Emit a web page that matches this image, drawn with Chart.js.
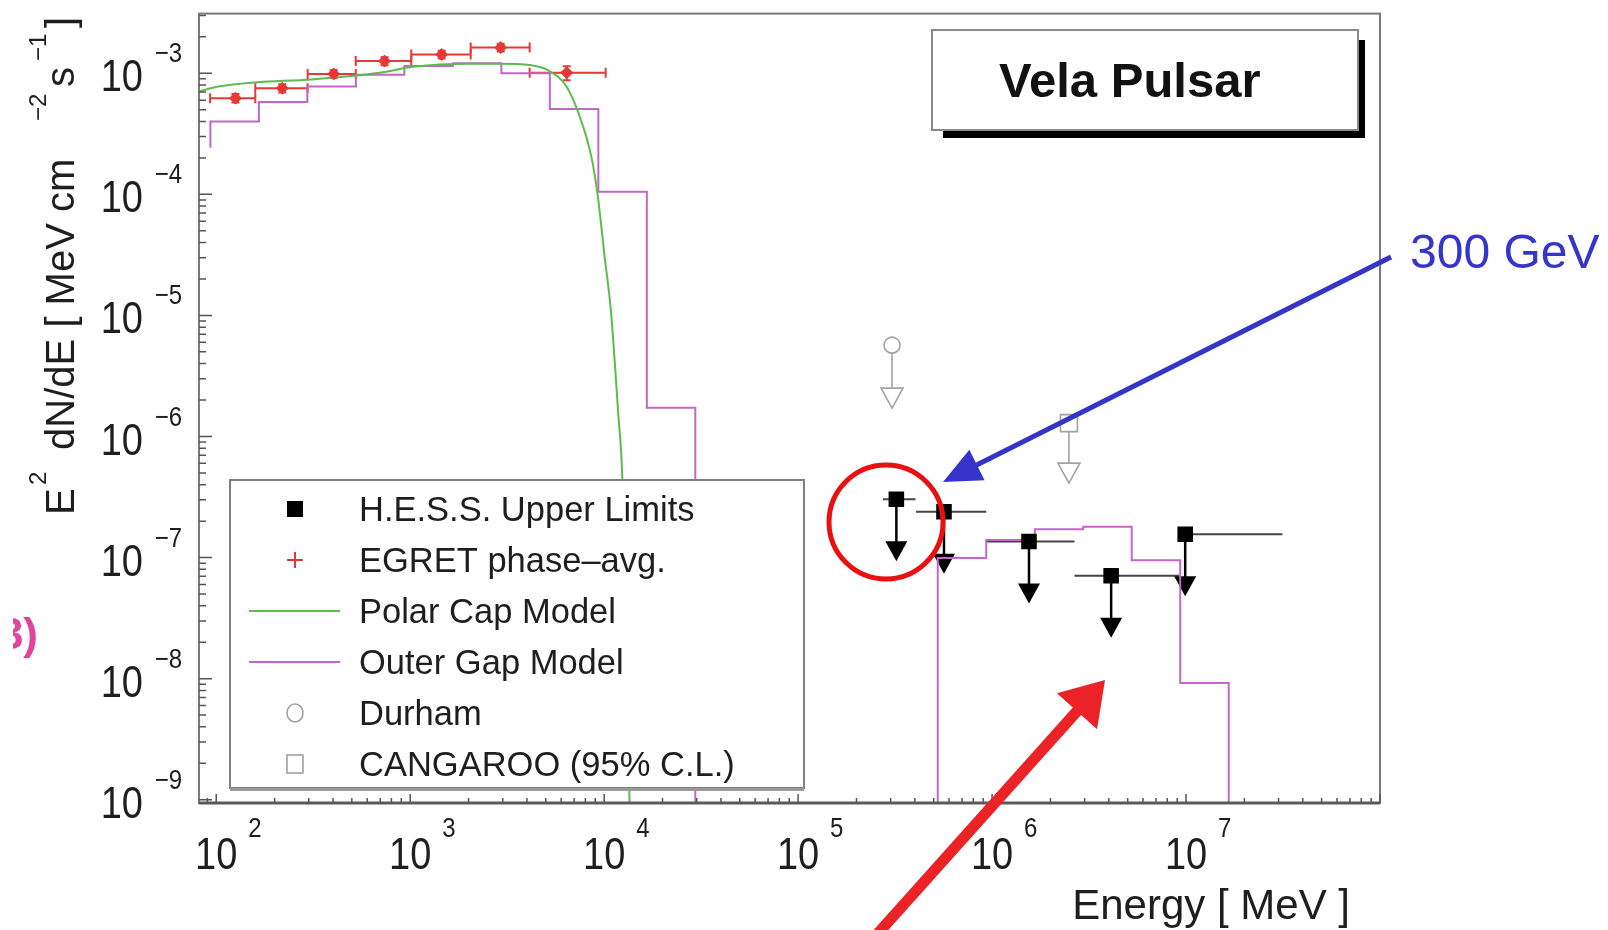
<!DOCTYPE html>
<html>
<head>
<meta charset="utf-8">
<script src="https://cdn.jsdelivr.net/npm/chart.js@4.4.1/dist/chart.umd.min.js"></script>
<style>
  html, body { margin: 0; padding: 0; background: #fff; }
  #wrap { width: 1608px; height: 930px; position: relative; }
</style>
</head>
<body>
<div id="wrap"><canvas id="chart" width="1608" height="930"></canvas></div>
<script>
// ---- data (energy in MeV, E^2 dN/dE in MeV cm^-2 s^-1) ----
const egretE = [125.6, 219, 403, 737, 1453, 2929, 6410];
const egretLo = [93, 159, 296, 524, 1013, 2051, 4130];
const egretHi = [159, 296, 524, 1013, 2051, 4130, 10180];
const egretFlux = [6.23e-4, 7.53e-4, 9.87e-4, 1.26e-3, 1.43e-3, 1.63e-3, 1.01e-3];
const egretErr = [0.5e-4, 0.6e-4, 0.75e-4, 0.95e-4, 1.05e-4, 1.2e-4, 1.35e-4];

const polarE = [82, 104, 158, 310, 696, 1033, 2005, 2890, 4130, 5130, 6380, 7480, 8590, 9250, 10070, 10830, 11800, 12420, 13530];
const polarFlux = [7.1e-4, 7.8e-4, 8.4e-4, 8.9e-4, 1.01e-3, 1.13e-3, 1.2e-3, 1.2e-3, 1.17e-3, 1.06e-3, 7.8e-4, 4.4e-4, 2.05e-4, 1.0e-4, 3.0e-5, 1.1e-5, 1.6e-6, 4.3e-7, 9e-10];

const gapEdges = [93.3, 166, 295, 525, 933, 1660, 2951, 5248, 9333, 16600, 29510, 524800, 933300, 1.66e6, 2.951e6, 5.248e6, 9.333e6, 1.66e7];
const gapFlux = [4.0e-4, 5.78e-4, 7.78e-4, 9.7e-4, 1.15e-3, 1.21e-3, 1.0e-3, 5.06e-4, 1.05e-4, 1.73e-6, 0, 9.9e-8, 1.4e-7, 1.71e-7, 1.8e-7, 9.5e-8, 9.2e-9];
const gapStart = 2.42e-4;

const hessE = [3.21e5, 5.65e5, 1.55e6, 4.11e6, 9.9e6];
const hessLo = [2.74e5, 4.06e5, 9.33e5, 2.66e6, 9.2e6];
const hessHi = [4.03e5, 9.33e5, 2.66e6, 9.2e6, 3.14e7];
const hessUL = [3.03e-7, 2.39e-7, 1.36e-7, 7.08e-8, 1.56e-7];

const durhamE = [3.05e5];
const durhamUL = [5.68e-6];
const cangE = [2.49e6];
const cangUL = [1.29e-6];

const xDecades = [2, 3, 4, 5, 6, 7];
const yDecades = [-9, -8, -7, -6, -5, -4, -3];
const legendLabels = ["H.E.S.S. Upper Limits", "EGRET phase\u2013avg.", "Polar Cap Model", "Outer Gap Model", "Durham", "CANGAROO (95% C.L.)"];

const FONT = '"Liberation Sans", Arial, Helvetica, sans-serif';
const RED = "#e53935", GREEN = "#5cbc4a", MAGENTA = "#c466c8", GREY = "#a2a2a2";

// step histogram points for the outer gap model
const gapPoints = [{ x: gapEdges[0], y: gapStart }];
gapFlux.forEach(function (v, i) {
  gapPoints.push({ x: gapEdges[i], y: v > 0 ? v : 1e-14 });
});
gapPoints.push({ x: gapEdges[gapEdges.length - 1], y: 1e-14 });

function pts(xs, ys) {
  return xs.map(function (x, i) { return { x: x, y: ys[i] }; });
}

function txt(ctx, s, x, y, size, opts) {
  opts = opts || {};
  ctx.save();
  ctx.translate(x, y);
  ctx.scale(1, opts.sy || 1);
  ctx.font = (opts.bold ? "bold " : "") + size + "px " + FONT;
  ctx.fillStyle = opts.color || "#1e1e1e";
  ctx.textAlign = opts.align || "left";
  ctx.textBaseline = "alphabetic";
  ctx.fillText(s, 0, 0);
  ctx.restore();
}

function arrowLine(ctx, x0, y0, x1, y1, lw, headLen, headHalf, color) {
  const dx = x1 - x0, dy = y1 - y0;
  const L = Math.sqrt(dx * dx + dy * dy);
  const ux = dx / L, uy = dy / L;
  const bx = x1 - ux * headLen, by = y1 - uy * headLen;
  ctx.save();
  ctx.strokeStyle = color;
  ctx.fillStyle = color;
  ctx.lineWidth = lw;
  ctx.beginPath();
  ctx.moveTo(x0, y0);
  ctx.lineTo(bx + ux * 2, by + uy * 2);
  ctx.stroke();
  ctx.beginPath();
  ctx.moveTo(x1, y1);
  ctx.lineTo(bx - uy * headHalf, by + ux * headHalf);
  ctx.lineTo(bx + uy * headHalf, by - ux * headHalf);
  ctx.closePath();
  ctx.fill();
  ctx.restore();
}

function downArrow(ctx, x, y0, tip, color, hollow) {
  ctx.save();
  ctx.strokeStyle = color;
  ctx.lineWidth = hollow ? 1.6 : 2.5;
  ctx.beginPath();
  ctx.moveTo(x, y0);
  ctx.lineTo(x, tip - 19);
  ctx.stroke();
  ctx.beginPath();
  ctx.moveTo(x - 11, tip - 20);
  ctx.lineTo(x + 11, tip - 20);
  ctx.lineTo(x, tip);
  ctx.closePath();
  if (hollow) {
    ctx.fillStyle = "#fff";
    ctx.fill();
    ctx.stroke();
  } else {
    ctx.fillStyle = color;
    ctx.fill();
  }
  ctx.restore();
}

// error bars and upper-limit arrows, under the markers
const barsPlugin = {
  id: "bars",
  beforeDatasetsDraw: function (chart) {
    const ctx = chart.ctx, xs = chart.scales.x, ys = chart.scales.y;
    ctx.save();
    // EGRET
    ctx.strokeStyle = RED;
    ctx.lineWidth = 2;
    egretE.forEach(function (e, i) {
      const px = xs.getPixelForValue(e), py = ys.getPixelForValue(egretFlux[i]);
      const x0 = xs.getPixelForValue(egretLo[i]), x1 = xs.getPixelForValue(egretHi[i]);
      const y0 = ys.getPixelForValue(egretFlux[i] - egretErr[i]), y1 = ys.getPixelForValue(egretFlux[i] + egretErr[i]);
      ctx.beginPath();
      ctx.moveTo(x0, py); ctx.lineTo(x1, py);
      ctx.moveTo(x0, py - 5); ctx.lineTo(x0, py + 5);
      ctx.moveTo(x1, py - 5); ctx.lineTo(x1, py + 5);
      ctx.moveTo(px, y0); ctx.lineTo(px, y1);
      ctx.moveTo(px - 4, y0); ctx.lineTo(px + 4, y0);
      ctx.moveTo(px - 4, y1); ctx.lineTo(px + 4, y1);
      ctx.stroke();
    });
    // H.E.S.S.
    hessE.forEach(function (e, i) {
      const px = xs.getPixelForValue(e), py = ys.getPixelForValue(hessUL[i]);
      ctx.strokeStyle = "#444";
      ctx.lineWidth = 2;
      ctx.beginPath();
      ctx.moveTo(xs.getPixelForValue(hessLo[i]), py);
      ctx.lineTo(xs.getPixelForValue(hessHi[i]), py);
      ctx.stroke();
      downArrow(ctx, px, py, py + 62, "#000", false);
    });
    durhamE.forEach(function (e, i) {
      const px = xs.getPixelForValue(e), py = ys.getPixelForValue(durhamUL[i]);
      downArrow(ctx, px, py + 8, py + 63, GREY, true);
    });
    cangE.forEach(function (e, i) {
      const px = xs.getPixelForValue(e), py = ys.getPixelForValue(cangUL[i]);
      downArrow(ctx, px, py + 8, py + 60, GREY, true);
    });
    ctx.restore();
  }
};

// ROOT style frame, inner ticks, labels, legend and slide annotations
const decorPlugin = {
  id: "decor",
  afterDatasetsDraw: function (chart) {
    const ctx = chart.ctx, a = chart.chartArea, xs = chart.scales.x, ys = chart.scales.y;
    ctx.save();
    // frame
    ctx.strokeStyle = "#7a7a7a";
    ctx.lineWidth = 2;
    ctx.strokeRect(a.left, a.top, a.right - a.left, a.bottom - a.top);
    ctx.strokeStyle = "#5a5a5a";
    ctx.lineWidth = 3;
    ctx.beginPath();
    ctx.moveTo(a.left, a.bottom); ctx.lineTo(a.right, a.bottom);
    ctx.stroke();

    // ticks
    ctx.strokeStyle = "#555";
    ctx.lineWidth = 1.5;
    ctx.beginPath();
    for (let n = 1; n <= 8; n++) {
      for (let m = 1; m <= 9; m++) {
        const v = m * Math.pow(10, n);
        if (v < xs.min || v > xs.max) continue;
        const px = xs.getPixelForValue(v);
        ctx.moveTo(px, a.bottom);
        ctx.lineTo(px, a.bottom - (m === 1 ? 9 : 5));
      }
    }
    for (let n = -10; n <= -2; n++) {
      for (let m = 1; m <= 9; m++) {
        const v = m * Math.pow(10, n);
        if (v < ys.min || v > ys.max) continue;
        const py = ys.getPixelForValue(v);
        ctx.moveTo(a.left, py);
        ctx.lineTo(a.left + (m === 1 ? 13 : 7), py);
      }
    }
    ctx.stroke();

    // tick labels
    xDecades.forEach(function (d) {
      const px = xs.getPixelForValue(Math.pow(10, d));
      txt(ctx, "10", px, 869, 38, { align: "center", sy: 1.15 });
      txt(ctx, String(d), px + 32, 837, 24, { sy: 1.15 });
    });
    yDecades.forEach(function (d) {
      const py = ys.getPixelForValue(Math.pow(10, d));
      txt(ctx, "10", 143, py + 18, 38, { align: "right", sy: 1.15 });
      txt(ctx, "\u2212" + Math.abs(d), 182, py - 11, 24, { align: "right", sy: 1.15 });
    });

    // axis titles
    txt(ctx, "Energy [ MeV ]", 1350, 919, 42, { align: "right" });
    ctx.save();
    ctx.translate(74, 515);
    ctx.rotate(-Math.PI / 2);
    ctx.fillStyle = "#1e1e1e";
    ctx.textBaseline = "alphabetic";
    ctx.font = "40px " + FONT;
    ctx.fillText("E", 0, 0);
    ctx.fillText(" dN/dE [ MeV cm", 54, 0);
    ctx.fillText("s", 428, 0);
    ctx.fillText("]", 487, 0);
    ctx.font = "24px " + FONT;
    ctx.fillText("2", 30, -28);
    ctx.fillText("\u22122", 394, -28);
    ctx.fillText("\u22121", 454, -28);
    ctx.restore();

    // legend
    const lx = 230, ly = 480, lw = 574, lh = 308;
    ctx.fillStyle = "#fff";
    ctx.fillRect(lx, ly, lw, lh);
    ctx.strokeStyle = "#808080";
    ctx.lineWidth = 2;
    ctx.strokeRect(lx, ly, lw, lh);
    ctx.fillStyle = "#9a9a9a";
    ctx.fillRect(lx, ly + lh, lw, 3);
    const rowY = [509, 560, 611, 662, 713, 764];
    const mx = 295;
    // markers
    ctx.fillStyle = "#000";
    ctx.fillRect(mx - 8, rowY[0] - 8, 16, 16);
    ctx.strokeStyle = RED;
    ctx.lineWidth = 2;
    ctx.beginPath();
    ctx.moveTo(mx - 8, rowY[1]); ctx.lineTo(mx + 8, rowY[1]);
    ctx.moveTo(mx, rowY[1] - 8); ctx.lineTo(mx, rowY[1] + 8);
    ctx.stroke();
    ctx.strokeStyle = GREEN;
    ctx.beginPath();
    ctx.moveTo(249, rowY[2]); ctx.lineTo(340, rowY[2]);
    ctx.stroke();
    ctx.strokeStyle = MAGENTA;
    ctx.beginPath();
    ctx.moveTo(249, rowY[3]); ctx.lineTo(340, rowY[3]);
    ctx.stroke();
    ctx.strokeStyle = GREY;
    ctx.lineWidth = 1.6;
    ctx.beginPath();
    ctx.ellipse(mx, rowY[4], 8, 9, 0, 0, Math.PI * 2);
    ctx.stroke();
    ctx.strokeRect(mx - 8, rowY[5] - 9, 16, 18);
    legendLabels.forEach(function (s, i) {
      txt(ctx, s, 359, rowY[i] + 12, 34.5, { sy: 1.02 });
    });

    // "Vela Pulsar" label box with shadow
    ctx.fillStyle = "#000";
    ctx.fillRect(943, 40, 422, 98);
    ctx.fillStyle = "#fff";
    ctx.fillRect(932, 30, 426, 100);
    ctx.strokeStyle = "#8a8a8a";
    ctx.lineWidth = 2;
    ctx.strokeRect(932, 30, 426, 100);
    txt(ctx, "Vela Pulsar", 999, 97, 49, { bold: true, color: "#111" });

    // slide annotations
    ctx.strokeStyle = "#e81010";
    ctx.lineWidth = 5;
    ctx.beginPath();
    ctx.arc(886, 522, 57, 0, Math.PI * 2);
    ctx.stroke();
    arrowLine(ctx, 1391, 257, 943, 482, 5, 38, 17, "#3434c8");
    txt(ctx, "300 GeV", 1410, 268, 48, { color: "#3535cc" });
    arrowLine(ctx, 872, 940, 1105, 680, 11, 42, 27, "#eb2226");
    ctx.save();
    ctx.beginPath();
    ctx.rect(13, 560, 120, 140);
    ctx.clip();
    txt(ctx, "3)", 38, 649, 44, { bold: true, align: "right", color: "#e0449c" });
    ctx.restore();

    ctx.restore();
  }
};

const ctx = document.getElementById("chart").getContext("2d");
const myChart = new Chart(ctx, {
  type: "scatter",
  data: {
    datasets: [
      {
        label: legendLabels[0],
        data: pts(hessE, hessUL),
        pointStyle: "rect",
        pointRadius: 11,
        backgroundColor: "#000",
        borderColor: "#000",
        borderWidth: 0
      },
      {
        label: legendLabels[1],
        data: pts(egretE, egretFlux),
        pointStyle: "rectRot",
        pointRadius: 6,
        backgroundColor: RED,
        borderColor: RED,
        borderWidth: 1
      },
      {
        label: legendLabels[4],
        data: pts(durhamE, durhamUL),
        pointStyle: "circle",
        pointRadius: 8,
        backgroundColor: "rgba(255,255,255,0)",
        borderColor: GREY,
        borderWidth: 1.6
      },
      {
        label: legendLabels[5],
        data: pts(cangE, cangUL),
        pointStyle: "rect",
        pointRadius: 12,
        backgroundColor: "rgba(255,255,255,0)",
        borderColor: GREY,
        borderWidth: 1.6
      },
      {
        type: "line",
        label: legendLabels[2],
        data: pts(polarE, polarFlux),
        borderColor: GREEN,
        borderWidth: 2,
        pointRadius: 0,
        cubicInterpolationMode: "monotone",
        fill: false
      },
      {
        type: "line",
        label: legendLabels[3],
        data: gapPoints,
        borderColor: MAGENTA,
        borderWidth: 2,
        pointRadius: 0,
        stepped: true,
        fill: false
      }
    ]
  },
  options: {
    responsive: false,
    animation: false,
    events: [],
    layout: { padding: { left: 0, right: 228, top: 10, bottom: 0 } },
    plugins: {
      legend: { display: false },
      tooltip: { enabled: false },
      title: { display: false }
    },
    scales: {
      x: {
        type: "logarithmic",
        min: 81.5,
        max: 1e8,
        ticks: { display: false },
        grid: { display: false },
        border: { display: false },
        afterFit: function (s) { s.height = 127; }
      },
      y: {
        type: "logarithmic",
        min: 9.4e-10,
        max: 3.11e-3,
        ticks: { display: false },
        grid: { display: false },
        border: { display: false },
        afterFit: function (s) { s.width = 199; }
      }
    }
  },
  plugins: [barsPlugin, decorPlugin]
});
</script>
</body>
</html>
